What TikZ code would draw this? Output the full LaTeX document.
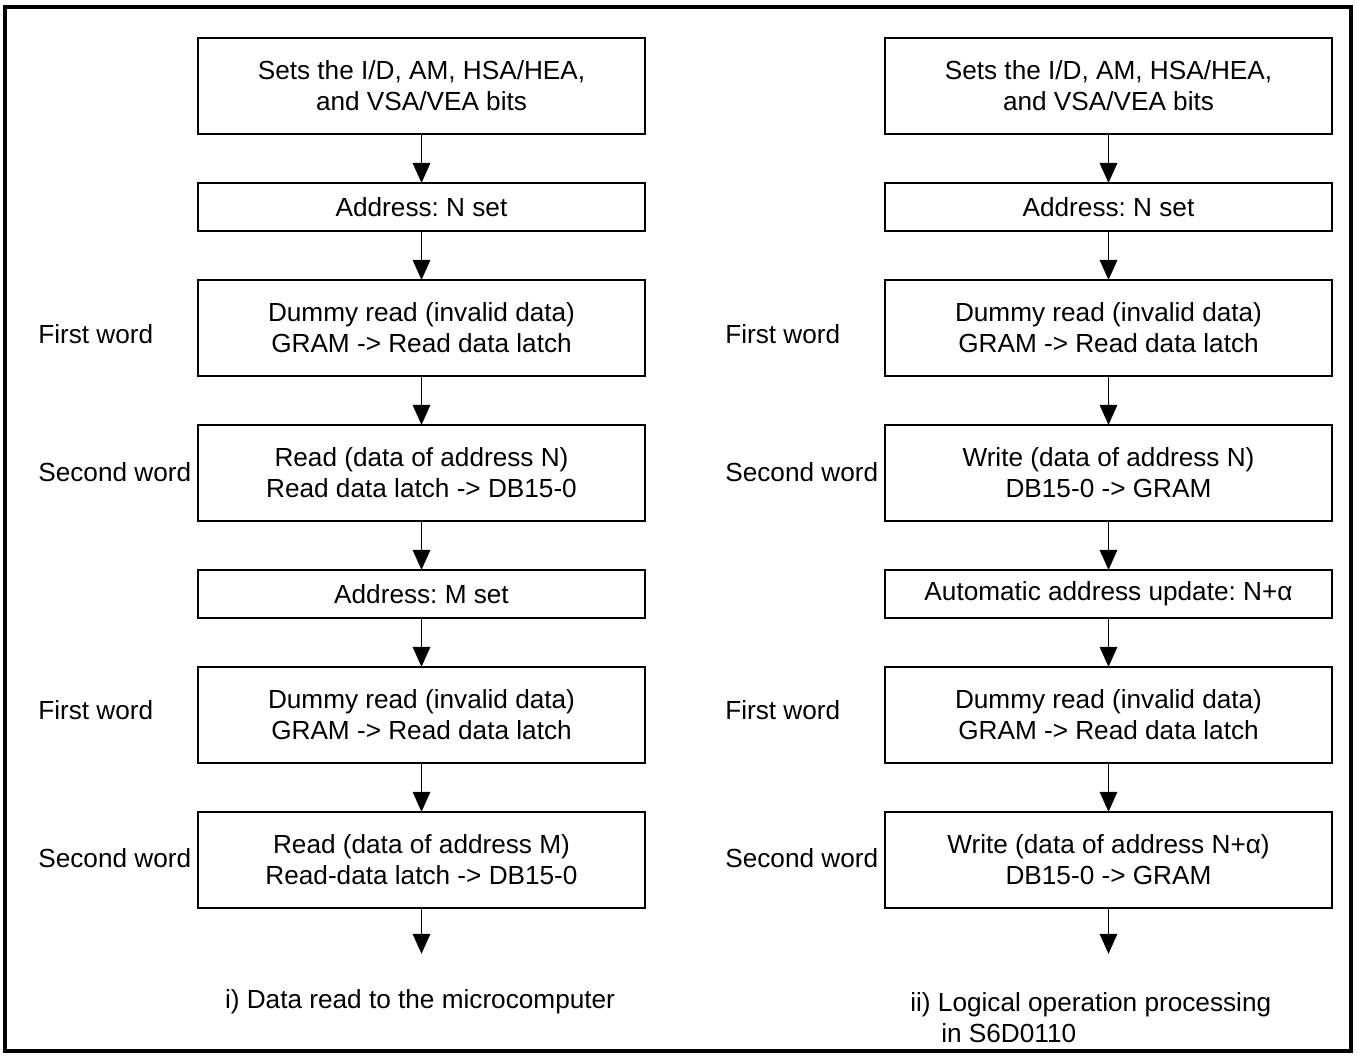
\documentclass[tikz,border=0pt]{standalone}
\usepackage{fontspec}
\setmainfont{Liberation Sans}
\frenchspacing
\usetikzlibrary{arrows.meta}
\usetikzlibrary{positioning}
\tikzset{box/.style = {draw, line width = 1.1pt, outer sep = 0, minimum width = 8.96cm, align = center,
  inner sep = 0, font = \fontsize{14.9}{17.5}\selectfont}}
\tikzset{tall/.style = {box, minimum height = 1.92cm}}
\tikzset{flat/.style = {box, minimum height = 0.96cm}}
\tikzset{flow/.style = {-{Triangle[length = 0.4cm, width = 0.35cm]}, line width = 0.9pt}}
\tikzset{lbl/.style = {anchor = west, inner sep = 0, font = \fontsize{14.9}{17.5}\selectfont}}

\begin{document}
\begin{tikzpicture}[x = 0.02cm, y = -0.02cm, node distance = 0.98cm]
      \useasboundingbox (0, 0) rectangle (1357, 1057);
      \draw [line width = 2pt] (5, 7) rectangle (1351, 1051);

      % left column
      \node [tall] (l1) at (421.5, 86) {Sets the I/D, AM, HSA/HEA,\\and VSA/VEA bits};
      \node [flat, below = of l1] (l2) {Address: N set};
      \node [tall, below = of l2] (l3) {Dummy read (invalid data)\\GRAM -> Read data latch};
      \node [tall, below = of l3] (l4) {Read (data of address N)\\Read data latch -> DB15-0};
      \node [flat, below = of l4] (l5) {Address: M set};
      \node [tall, below = of l5] (l6) {Dummy read (invalid data)\\GRAM -> Read data latch};
      \node [tall, below = of l6] (l7) {Read (data of address M)\\Read-data latch -> DB15-0};
      \coordinate (l8) at ([yshift = -0.92cm] l7.south);

      \node [lbl] (lw1) at (38, 334) {First word};
      \node [lbl] (lw2) at (38, 472) {Second word};
      \node [lbl] (lw3) at (38, 710) {First word};
      \node [lbl] (lw4) at (38, 858) {Second word};

      % right column
      \node [tall] (r1) at (1108.5, 86) {Sets the I/D, AM, HSA/HEA,\\and VSA/VEA bits};
      \node [flat, below = of r1] (r2) {Address: N set};
      \node [tall, below = of r2] (r3) {Dummy read (invalid data)\\GRAM -> Read data latch};
      \node [tall, below = of r3] (r4) {Write (data of address N)\\DB15-0 -> GRAM};
      \node [flat, below = of r4] (r5) {Automatic address update: N+α};
      \node [tall, below = of r5] (r6) {Dummy read (invalid data)\\GRAM -> Read data latch};
      \node [tall, below = of r6] (r7) {Write (data of address N+α)\\DB15-0 -> GRAM};
      \coordinate (r8) at ([yshift = -0.92cm] r7.south);

      \node [lbl] (rw1) at (725, 334) {First word};
      \node [lbl] (rw2) at (725, 472) {Second word};
      \node [lbl] (rw3) at (725, 710) {First word};
      \node [lbl] (rw4) at (725, 858) {Second word};

      \foreach \i [evaluate = \i as \j using int(\i + 1)] in {1, ..., 7} {
        \draw [flow] (l\i) -- (l\j);
        \draw [flow] (r\i) -- (r\j);
      }

      % captions
      \node [lbl, anchor = center] (capl) at (420, 1002) {i) Data read to the microcomputer};
      \node [lbl, anchor = north west, align = left] (capr) at (910, 992)
        {ii) Logical operation processing\\\hspace*{0.62cm}in S6D0110};
    \end{tikzpicture}
\end{document}
